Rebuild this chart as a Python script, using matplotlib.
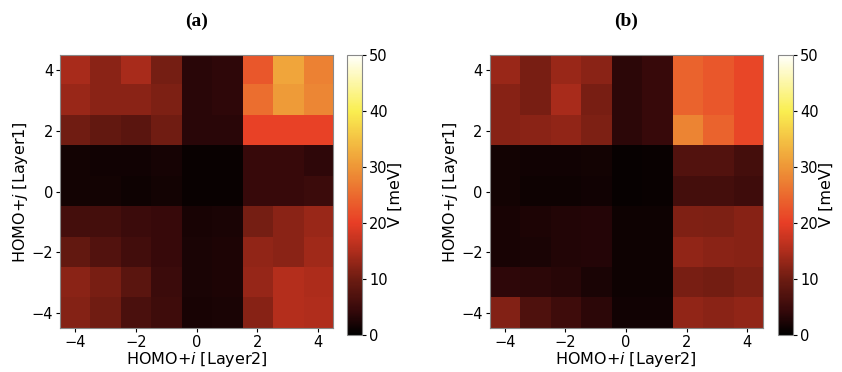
import numpy as np
import matplotlib
matplotlib.use("Agg")
import matplotlib.pyplot as plt
from matplotlib.colors import LinearSegmentedColormap

# HOMO+i (Layer2) along x, HOMO+j (Layer1) along y
states = [-4, -3, -2, -1, 0, 1, 2, 3, 4]
ticks = [-4, -2, 0, 2, 4]
cbar_ticks = [0, 10, 20, 30, 40, 50]

# coupling V [meV], rows listed from j=4 (top) down to j=-4 (bottom)
V_a = [
    [14.5, 12.3, 14.5, 10.7, 3.4, 3.9, 23.0, 31.7, 27.7],
    [13.4, 12.3, 12.3, 11.2, 3.4, 3.9, 25.5, 30.5, 28.3],
    [10.2, 8.8, 8.1, 10.2, 3.4, 3.4, 20.5, 20.5, 20.5],
    [1.7, 1.5, 1.5, 1.8, 0.8, 0.9, 4.6, 4.6, 3.9],
    [1.6, 1.7, 1.3, 1.7, 0.8, 0.9, 4.6, 4.6, 5.0],
    [6.0, 6.0, 5.0, 4.6, 2.0, 2.2, 10.7, 12.3, 13.4],
    [8.8, 7.4, 5.7, 4.6, 2.2, 2.4, 12.8, 12.3, 13.9],
    [12.3, 10.8, 8.1, 5.0, 2.2, 2.4, 13.2, 15.6, 15.0],
    [11.8, 10.2, 6.6, 5.4, 2.0, 2.2, 12.1, 15.6, 15.1],
]

V_b = [
    [13.4, 10.8, 13.4, 12.3, 3.6, 4.6, 24.3, 23.0, 21.0],
    [12.0, 10.8, 14.5, 10.8, 3.6, 4.6, 24.3, 23.0, 21.0],
    [12.0, 12.3, 12.8, 11.2, 3.6, 4.6, 28.0, 24.3, 21.0],
    [1.6, 1.5, 1.5, 1.6, 0.7, 0.8, 7.4, 7.4, 6.0],
    [1.6, 1.3, 1.3, 1.5, 0.7, 0.8, 6.0, 6.0, 5.4],
    [2.0, 2.4, 2.8, 3.1, 1.3, 1.3, 11.5, 11.2, 12.0],
    [2.0, 2.2, 2.8, 3.1, 1.3, 1.3, 12.8, 12.3, 12.0],
    [3.9, 3.6, 3.25, 2.2, 1.3, 1.3, 10.8, 10.5, 11.2],
    [11.7, 7.0, 5.4, 3.6, 1.5, 1.5, 12.8, 12.3, 12.8],
]

# slightly washed-out "hot" as it looks in the figure
cmap = LinearSegmentedColormap.from_list("washed_hot", [
    (0.0, "#000000"),
    (0.08, "#32080a"),
    (0.2, "#6e1c12"),
    (0.3, "#af2d1c"),
    (0.4, "#e83e26"),
    (0.6, "#ee9637"),
    (0.8, "#faee50"),
    (1.0, "#fffffa"),
])

fig = plt.figure(figsize=(8.42, 3.72), dpi=100)

ext = [states[0] - 0.5, states[-1] + 0.5, states[0] - 0.5, states[-1] + 0.5]

panels = [
    (V_a, "(a)", [0.069, 0.118, 0.329, 0.734], [0.412, 0.10, 0.018, 0.752]),
    (V_b, "(b)", [0.581, 0.118, 0.325, 0.734], [0.924, 0.10, 0.018, 0.752]),
]

for data, title, ax_rect, cb_rect in panels:
    ax = fig.add_axes(ax_rect)
    im = ax.imshow(np.array(data), cmap=cmap, vmin=0, vmax=50,
                   origin="upper", extent=ext, interpolation="nearest")
    ax.set_xticks(ticks)
    ax.set_yticks(ticks)
    ax.tick_params(labelsize=10.5, pad=2, length=3)
    ax.set_xlabel("HOMO+$i$ [Layer2]", fontsize=11.5, labelpad=0)
    ax.set_ylabel("HOMO+$j$ [Layer1]", fontsize=11.5, labelpad=1)
    for s in ax.spines.values():
        s.set_color("#888888")
    ax.text(0.5, 1.09, title, transform=ax.transAxes, ha="center", va="bottom",
            fontsize=14, fontweight="bold", family="Liberation Serif")

    cax = fig.add_axes(cb_rect)
    cb = fig.colorbar(im, cax=cax)
    cb.set_ticks(cbar_ticks)
    cb.ax.tick_params(labelsize=10.5, pad=2, length=3)
    cb.set_label("V [meV]", fontsize=11.5, labelpad=0)
    cb.outline.set_edgecolor("#888888")

fig.savefig("out.png", dpi=100)
